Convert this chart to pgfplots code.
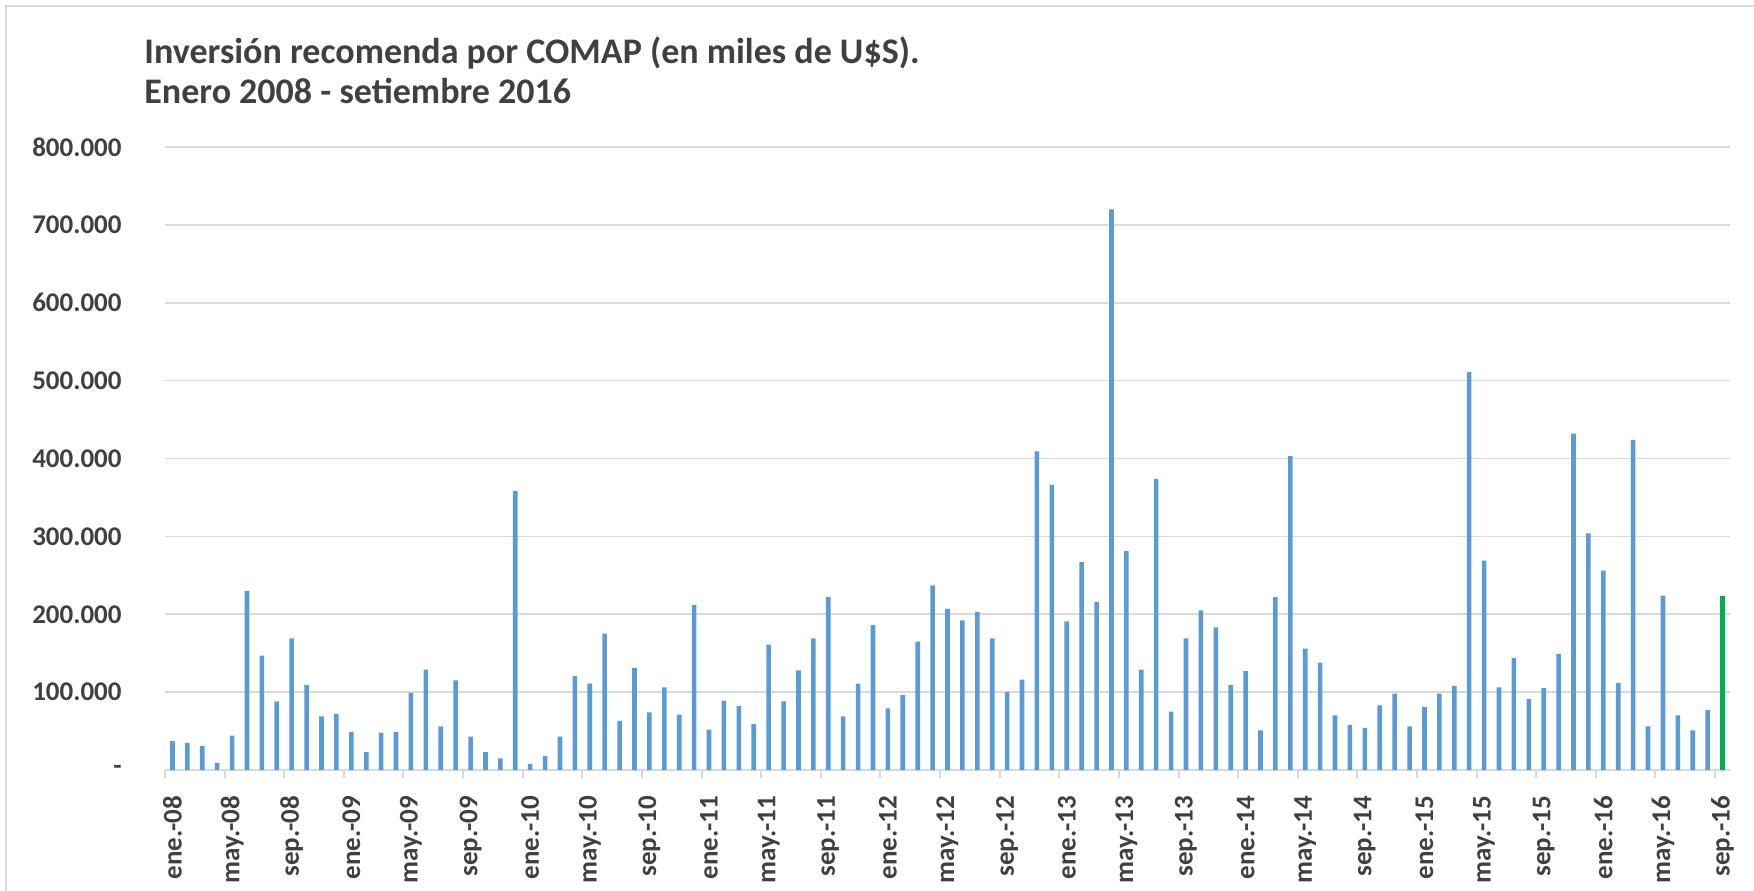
\documentclass[border=0pt]{standalone}
\usepackage{pgfplots}
\usepackage{pgfplotstable}
\pgfplotsset{compat=1.18}
\usepackage{fontspec}
\setmainfont{Carlito}

\definecolor{barblue}{HTML}{5B9BD5}
\definecolor{bargreen}{HTML}{00B050}
\definecolor{txt}{HTML}{404040}
\definecolor{gridc}{HTML}{D9D9D9}

% inversion mensual, miles de U$S (en miles), mes 0 = ene-08
\pgfplotstableread{
m v
0 37
1 35
2 31
3 9
4 44
5 230
6 147
7 88
8 169
9 109
10 69
11 72
12 49
13 23
14 48
15 49
16 99
17 129
18 56
19 115
20 43
21 23
22 15
23 358
24 8
25 18
26 43
27 121
28 111
29 175
30 63
31 131
32 74
33 106
34 71
35 212
36 52
37 89
38 82
39 59
40 161
41 88
42 128
43 169
44 222
45 69
46 111
47 186
48 79
49 96
50 165
51 237
52 207
53 192
54 203
55 169
56 100
57 116
58 409
59 366
60 191
61 267
62 216
63 720
64 281
65 129
66 374
67 75
68 169
69 205
70 183
71 109
72 127
73 51
74 222
75 403
76 156
77 138
78 70
79 58
80 54
81 83
82 98
83 56
84 81
85 98
86 108
87 511
88 269
89 106
90 144
91 91
92 105
93 149
94 432
95 304
96 256
97 112
98 424
99 56
100 224
101 70
102 51
103 77
104 224
}\inversion

\begin{document}
\begin{tikzpicture}
\useasboundingbox (0pt,0pt) rectangle (877pt,445pt);
\draw[gridc, line width=1pt] (3pt,-20pt) rectangle (900pt,442pt);
\node[anchor=base west, inner sep=0pt, text=txt, font=\fontsize{18}{21}\selectfont\bfseries] at (72pt,413pt) {Inversión recomenda por COMAP (en miles de U\$S).};
\node[anchor=base west, inner sep=0pt, text=txt, font=\fontsize{18}{21}\selectfont\bfseries] at (72pt,393pt) {Enero 2008 - setiembre 2016};
\begin{axis}[
    at={(82.5pt,60pt)}, anchor=south west,
    scale only axis, width=782.5pt, height=311.5pt,
    xmin=-0.5, xmax=104.5, ymin=0, ymax=800,
    axis x line*=bottom, axis y line*=left,
    x axis line style={gridc, line width=1.2pt},
    y axis line style={draw=none},
    ymajorgrids, grid style={gridc, line width=0.8pt},
    ytick={0,100,...,800},
    yticklabels={-\hspace{12pt},100.000,200.000,300.000,400.000,500.000,600.000,700.000,800.000},
    ytick style={draw=none},
    yticklabel style={font=\fontsize{13.5}{16}\selectfont\bfseries, text=txt, inner sep=0pt},
    yticklabel shift=21.5pt,
    xtick={0,4,...,104},
    xticklabels={ene.-08,may.-08,sep.-08,ene.-09,may.-09,sep.-09,ene.-10,may.-10,sep.-10,ene.-11,may.-11,sep.-11,ene.-12,may.-12,sep.-12,ene.-13,may.-13,sep.-13,ene.-14,may.-14,sep.-14,ene.-15,may.-15,sep.-15,ene.-16,may.-16,sep.-16},
    xtick style={draw=none},
    xticklabel style={font=\fontsize{13.5}{16}\selectfont\bfseries, text=txt, rotate=90, anchor=east, inner sep=0pt},
    xticklabel shift=8.5pt,
    extra x ticks={-0.5,3.5,...,103.5},
    extra x tick labels={},
    extra x tick style={grid=none, xtick style={draw=gridc, line width=1pt}, major tick length=4pt, tick align=outside},
    ybar, bar width=2.3pt, bar shift=0pt,
  ]
  \addplot[fill=barblue, draw=none, restrict x to domain=0:103] table[x=m, y=v] {\inversion};
  \addplot[fill=bargreen, draw=none, restrict x to domain=104:104] table[x=m, y=v] {\inversion};
\end{axis}
\end{tikzpicture}
\end{document}
